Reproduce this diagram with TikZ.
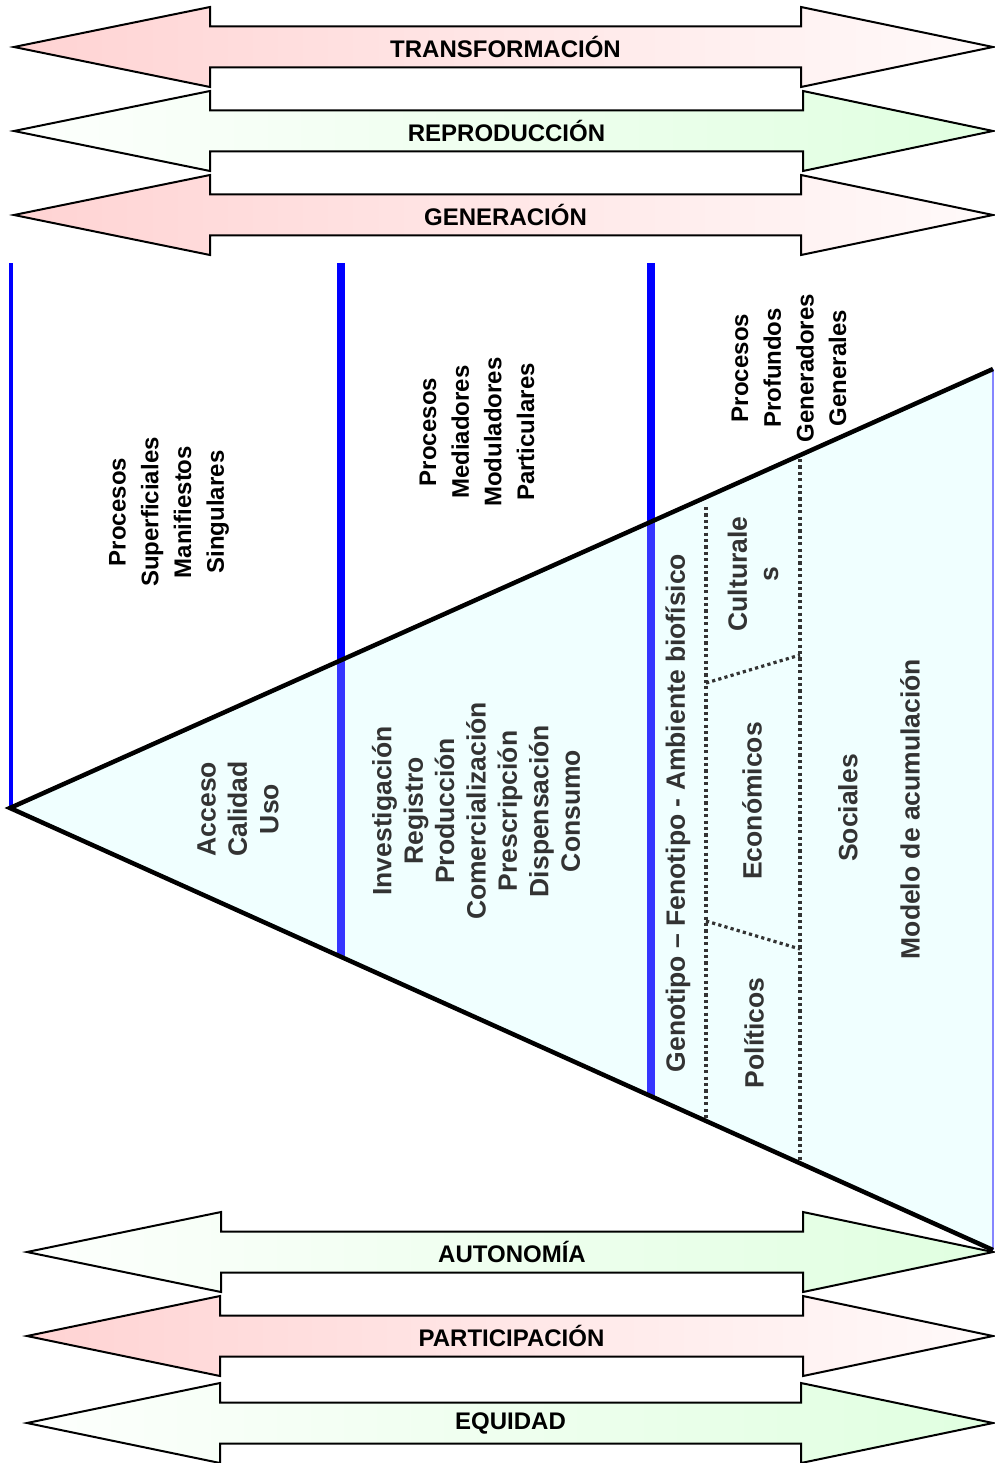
\documentclass[tikz,border=0pt]{standalone}
\usepackage{fontspec}
\setmainfont{Liberation Sans}
\definecolor{rosa}{HTML}{FFD3D3}
\definecolor{rosaclaro}{HTML}{FFFAFA}
\definecolor{verde}{HTML}{E0FFE0}
\definecolor{verdeclaro}{HTML}{FDFFFD}
\definecolor{celeste}{HTML}{F0FFFF}
\definecolor{azul}{HTML}{0000FF}
\definecolor{azulsuave}{HTML}{3535FF}
\definecolor{gris}{HTML}{333333}
\begin{document}
\begin{tikzpicture}[x=1pt,y=-1pt,
  bandlabel/.style={font=\fontsize{24}{28}\selectfont\bfseries, text=black},
  outertext/.style={rotate=90, align=center, inner sep=0pt,
    font=\fontsize{24}{32.7}\selectfont\bfseries, text=black},
  innertext/.style={rotate=90, align=center, inner sep=0pt,
    font=\fontsize{26.5}{31.4}\selectfont\bfseries, text=gris},
  bandarrow/.style={draw=black, line width=2pt, line join=miter},
  divider/.style={draw=azul, line width=8pt},
  dividerin/.style={draw=azulsuave, line width=8pt},
  separator/.style={draw=gris, line width=3.2pt, dash pattern=on 3.2pt off 3.2pt}]
\useasboundingbox (0,0) rectangle (994,1463);

% double-headed band arrows: centre y / left tip / left head base / right head base / colours / label / name
\foreach \yc/\tl/\bl/\br/\lc/\rc/\lab/\nm in {
   47/14/210/801/rosa/rosaclaro/TRANSFORMACIÓN/transf,
  131/14/210/803/verdeclaro/verde/REPRODUCCIÓN/reprod,
  215/14/210/801/rosa/rosaclaro/GENERACIÓN/gener,
 1252/27/221/803/verdeclaro/verde/AUTONOMÍA/auton,
 1336/27/220/803/rosa/rosaclaro/PARTICIPACIÓN/partic,
 1423/27/220/801/verdeclaro/verde/EQUIDAD/equid}{
  \path[bandarrow, left color=\lc, right color=\rc]
    (\tl,\yc) -- (\bl,\yc-40) -- (\bl,\yc-20.5) -- (\br,\yc-20.5) -- (\br,\yc-40)
    -- (993,\yc) -- (\br,\yc+40) -- (\br,\yc+20.5) -- (\bl,\yc+20.5) -- (\bl,\yc+40) -- cycle;
  \node[bandlabel] (\nm) at ({(\bl+\br)/2},\yc) {\lab};
}

% the wedge
\coordinate (apex) at (10,808);
\coordinate (wtop) at (993,369);
\coordinate (wbot) at (993,1250);
\fill[celeste] (apex) -- (wtop) -- (wbot) -- cycle;
\draw[draw=azulsuave!60, line width=2pt] (wtop) -- (wbot);

% vertical dividers
\draw[draw=azul, line width=3.5pt] (11,263) -- (11,806);
\draw[divider]   (341,263) -- (341,660);
\draw[dividerin] (341,660) -- (341,956);
\draw[divider]   (651,263) -- (651,522);
\draw[dividerin] (651,522) -- (651,1097);

% wedge outline
\draw[line width=4.5pt, line join=miter] (wtop) -- (apex) -- (wbot);

% dotted separators
\draw[separator] (706,507) -- (706,1119);
\draw[separator] (800,459) -- (800,1161);
\draw[separator] (706,683) -- (800,655);
\draw[separator] (706,921) -- (800,949);

% texts above the wedge
\node[outertext] (sup) at (169,512) {Procesos\\Superficiales\\Manifiestos\\Singulares};
\node[outertext] (med) at (477,432) {Procesos\\Mediadores\\Moduladores\\Particulares};
\node[outertext] (prof) at (789,368) {Procesos\\Profundos\\Generadores\\Generales};

% texts inside the wedge
\node[innertext] (acc) at (238,809) {Acceso\\Calidad\\Uso};
\node[innertext] (inv) at (476,811) {Investigación\\Registro\\Producción\\Comercialización\\Prescripción\\Dispensación\\Consumo};
\node[innertext] (gen) at (678,813) {Genotipo – Fenotipo - Ambiente biofísico};
\node[innertext] (cult) at (753,574) {Culturale\\s};
\node[innertext] (econ) at (752,801) {Económicos};
\node[innertext] (pol) at (754,1033) {Políticos};
\node[innertext] (soc) at (848,808) {Sociales};
\node[innertext] (mod) at (910,809) {Modelo de acumulación};
\end{tikzpicture}
\end{document}
